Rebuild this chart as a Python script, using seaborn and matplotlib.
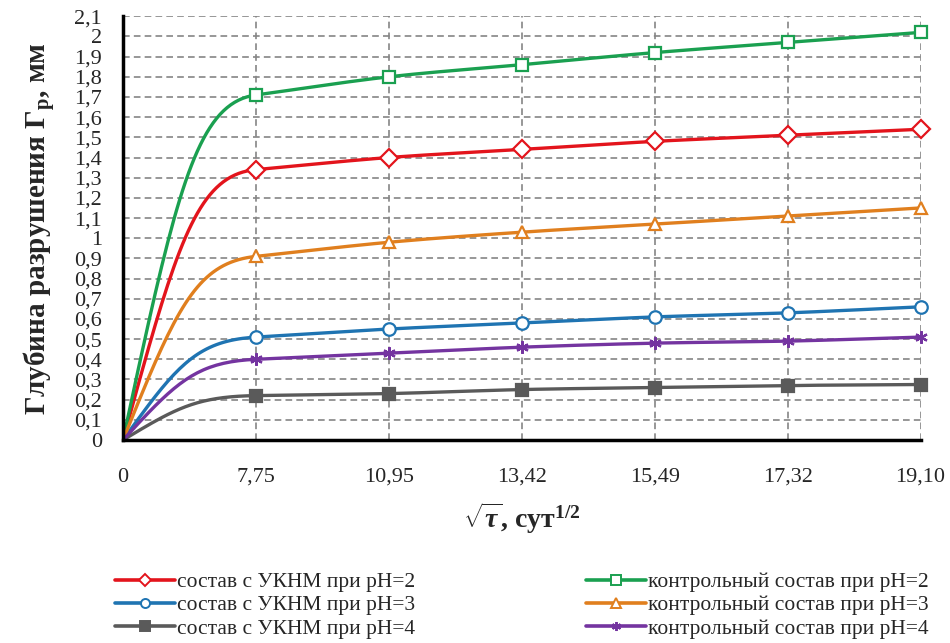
import numpy as np
import pandas as pd
import matplotlib
matplotlib.use("Agg")
import matplotlib.pyplot as plt
import seaborn as sns
from matplotlib.lines import Line2D

# данные
x_labels = ["0", "7,75", "10,95", "13,42", "15,49", "17,32", "19,10"]
ukmn_ph2 = [0, 1.34, 1.40, 1.44, 1.48, 1.51, 1.54]
ukmn_ph3 = [0, 0.51, 0.55, 0.58, 0.61, 0.63, 0.66]
ukmn_ph4 = [0, 0.22, 0.23, 0.25, 0.26, 0.27, 0.275]
ctrl_ph2 = [0, 1.71, 1.80, 1.86, 1.92, 1.97, 2.02]
ctrl_ph3 = [0, 0.91, 0.98, 1.03, 1.07, 1.11, 1.15]
ctrl_ph4 = [0, 0.40, 0.43, 0.46, 0.48, 0.49, 0.51]
y_ticks = [round(0.1 * i, 1) for i in range(22)]
y_labels = [("%g" % v).replace(".", ",") for v in y_ticks]

series = [
    # label, data, color, marker, filled
    ("состав с УКНМ при pH=2", ukmn_ph2, "#e3141c", "D", False),
    ("состав с УКНМ при pH=3", ukmn_ph3, "#1f74b2", "o", False),
    ("состав с УКНМ при pH=4", ukmn_ph4, "#5a5a5a", "s", True),
    ("контрольный состав при pH=2", ctrl_ph2, "#1aa050", "s", False),
    ("контрольный состав при pH=3", ctrl_ph3, "#e07f1e", "^", False),
    ("контрольный состав при pH=4", ctrl_ph4, "#7434a0", (6, 2, 0), False),
]


def smooth(y, n=40):
    """ сглаживание линии как в Excel (только для отрисовки) """
    y = np.asarray(y, float)
    m = np.zeros(len(y))
    m[1] = y[2] - y[1]
    m[2:-1] = (y[3:] - y[1:-2]) / 2
    m[-1] = y[-1] - y[-2]
    t = np.linspace(0, 1, n)
    d = y[1] - y[0]
    px = [0, 0.4, 0.55, 1]
    py = [y[0], y[0] + 0.72 * d, y[1] - 0.45 * m[1], y[1]]
    b = [(1 - t) ** 3, 3 * (1 - t) ** 2 * t, 3 * (1 - t) * t ** 2, t ** 3]
    xs = [sum(b[k] * px[k] for k in range(4))]
    ys = [sum(b[k] * py[k] for k in range(4))]
    h00 = 2 * t ** 3 - 3 * t ** 2 + 1
    h10 = t ** 3 - 2 * t ** 2 + t
    h01 = -2 * t ** 3 + 3 * t ** 2
    h11 = t ** 3 - t ** 2
    for i in range(1, len(y) - 1):
        xs.append(i + t)
        ys.append(h00 * y[i] + h10 * m[i] + h01 * y[i + 1] + h11 * m[i + 1])
    return np.concatenate(xs), np.concatenate(ys)


sns.set_style("white")
plt.rcParams["font.family"] = ["Liberation Serif", "DejaVu Serif"]
plt.rcParams["mathtext.fontset"] = "custom"
plt.rcParams["mathtext.rm"] = "Liberation Serif:bold"
plt.rcParams["mathtext.it"] = "Liberation Serif:italic:bold"
plt.rcParams["mathtext.bf"] = "Liberation Serif:bold"

fig = plt.figure(figsize=(9.5, 6.43), dpi=100)
ax = fig.add_axes([0.1295, 0.3157, 0.8395, 0.659])

# сглаженные кривые
rows = []
for label, data, color, marker, filled in series:
    sx, sy = smooth(data)
    rows.append(pd.DataFrame({"x": sx, "y": sy, "series": label}))
curves = pd.concat(rows, ignore_index=True)
palette = {s[0]: s[2] for s in series}
sns.lineplot(data=curves, x="x", y="y", hue="series", palette=palette,
             sort=False, estimator=None, linewidth=2.4, legend=False, ax=ax, zorder=3)

# маркеры
handles = []
for label, data, color, marker, filled in series:
    face = color if filled else "white"
    ax.plot(np.arange(1, len(data)), data[1:], linestyle="none", marker=marker,
            markersize=9, markerfacecolor=face, markeredgecolor=color,
            markeredgewidth=1.6, zorder=4, clip_on=False)
    handles.append(Line2D([0], [0], color=color, linewidth=2.6, marker=marker,
                          markersize=6.5, markerfacecolor=face,
                          markeredgecolor=color, markeredgewidth=1.4))

ax.set_xlim(0, len(x_labels) - 1)
ax.set_ylim(0, 2.1)
ax.set_xticks(range(len(x_labels)))
ax.set_xticklabels(x_labels, fontsize=16)
ax.set_yticks(y_ticks)
ax.set_yticklabels(y_labels, fontsize=16)

ax.grid(True, color="#858585", linestyle=(0, (4, 2.5)), linewidth=1.2)
ax.set_axisbelow(True)
for side in ["top", "right"]:
    ax.spines[side].set_visible(False)
for side in ["left", "bottom"]:
    ax.spines[side].set_color("black")
    ax.spines[side].set_linewidth(2.5)
    ax.spines[side].set_zorder(5)
ax.tick_params(axis="y", direction="out", length=5, width=2, color="black", pad=10)
ax.tick_params(axis="x", direction="out", length=7, width=2, color="black", pad=13)

ax.set_ylabel("Глубина разрушения Г$_{\\mathrm{р}}$, мм", fontsize=21,
              fontweight="bold", labelpad=12)
ax.set_xlabel("$\\sqrt{\\tau}$, сут$^{1/2}$", fontsize=20, fontweight="bold",
              labelpad=10)

fig.legend(handles, [s[0] for s in series], ncol=2, loc="upper left",
           bbox_to_anchor=(0.121, 1 - 572 / 643), frameon=False, fontsize=15.5,
           handlelength=2.8, handletextpad=0.1, columnspacing=7.9,
           labelspacing=0.15, borderpad=0, borderaxespad=0)

fig.savefig("out.png", dpi=100)
